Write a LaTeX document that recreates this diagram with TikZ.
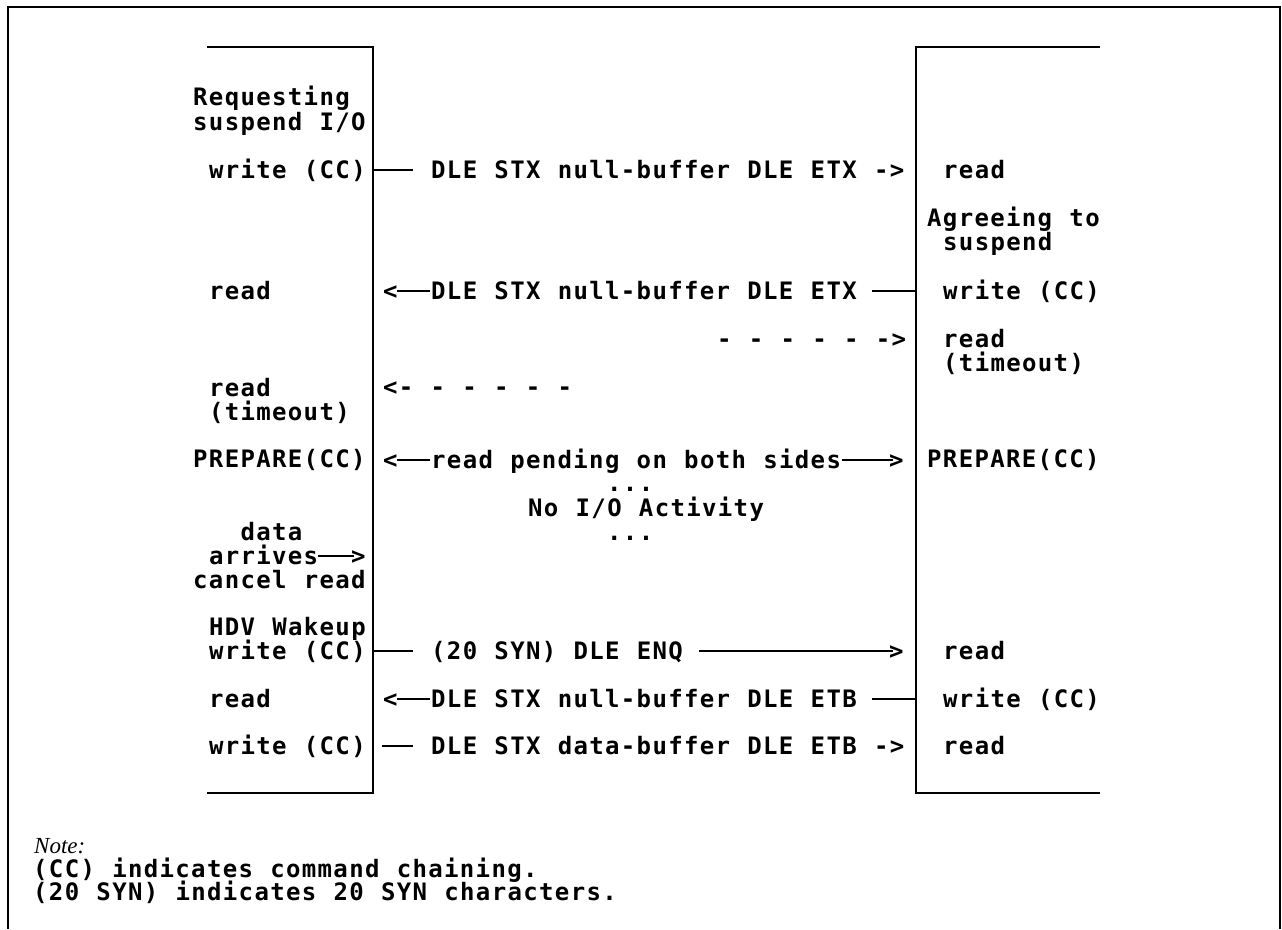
\documentclass[tikz,border=0pt]{standalone}
\usepackage{fontspec}
\newfontfamily\dg[LetterSpace=5.6,WordSpace=1.093]{DejaVu Sans Mono Bold}
\newfontfamily\nt{Liberation Serif}
\begin{document}
\begin{tikzpicture}[x=1pt,y=-1pt,
  lbl/.style={anchor=base west, inner sep=0pt, font=\fontsize{24}{26}\selectfont\dg},
  notelbl/.style={anchor=base west, inner sep=0pt, font=\fontsize{23}{26}\selectfont\nt\itshape},
  ln/.style={line width=2.2pt},
  frame/.style={line width=1.8pt},
  lane/.style={line width=2.6pt}]
\useasboundingbox (0,0) rectangle (1282,929);
% outer frame
\draw[frame] (8,929) -- (8,7) -- (1280,7) -- (1280,929);
% lanes
\draw[lane] (207,47) -- (373,47) -- (373,793) -- (207,793);
\draw[lane] (1100,47) -- (916,47) -- (916,793) -- (1100,793);
% lane attachment points
\coordinate (L1) at (373,170);
\coordinate (R2) at (916,291);
\coordinate (L6) at (373,651);
\coordinate (R7) at (916,699);
\coordinate (L8) at (382,746);
% left labels
\node[lbl] (lReq) at (193,105) {Requesting};
\node[lbl] (lSus) at (193,130) {suspend I/O};
\node[lbl] (lW1) at (208.8,178) {write (CC)};
\node[lbl] (lR1) at (208.8,299) {read};
\node[lbl] (lR2) at (208.8,396) {read};
\node[lbl] (lT2) at (208.8,420) {(timeout)};
\node[lbl] (lPrep) at (193,467) {PREPARE(CC)};
\node[lbl] (lData) at (240.4,540) {data};
\node[lbl] (lArr) at (208.8,564) {arrives};
\node[lbl] (lArrTip) at (351,564) {>};
\node[lbl] (lCan) at (193,588) {cancel read};
\node[lbl] (lHdv) at (208.8,635) {HDV Wakeup};
\node[lbl] (lW2) at (208.8,659) {write (CC)};
\node[lbl] (lR3) at (208.8,707) {read};
\node[lbl] (lW3) at (208.8,754) {write (CC)};
% right labels
\node[lbl] (rR1) at (943,178) {read};
\node[lbl] (rAg) at (927,226) {Agreeing to};
\node[lbl] (rSus) at (943,250) {suspend};
\node[lbl] (rW1) at (943,299) {write (CC)};
\node[lbl] (rR2) at (943,347) {read};
\node[lbl] (rT2) at (943,371) {(timeout)};
\node[lbl] (rPrep) at (927,467) {PREPARE(CC)};
\node[lbl] (rR3) at (943,659) {read};
\node[lbl] (rW2) at (943,707) {write (CC)};
\node[lbl] (rR4) at (943,754) {read};
% middle messages
\node[lbl] (m1) at (431,178) {DLE STX null-buffer DLE ETX ->};
\node[lbl] (m2l) at (383,299) {<};
\node[lbl] (m2) at (431,299) {DLE STX null-buffer DLE ETX};
\node[lbl] (m3) at (717,347) {- - - - - ->};
\node[lbl] (m4) at (383,395) {<- - - - - -};
\node[lbl] (m5l) at (383,468) {<};
\node[lbl] (m5) at (431,468) {read pending on both sides};
\node[lbl] (m5r) at (889,468) {>};
\node[lbl] (d1) at (607,491) {...};
\node[lbl] (noio) at (528,516) {No I/O Activity};
\node[lbl] (d2) at (607,540) {...};
\node[lbl] (m6) at (431,659) {(20 SYN) DLE ENQ};
\node[lbl] (m6r) at (889,659) {>};
\node[lbl] (m7l) at (383,707) {<};
\node[lbl] (m7) at (431,707) {DLE STX null-buffer DLE ETB};
\node[lbl] (m8) at (431,754) {DLE STX data-buffer DLE ETB ->};
% connector lines
\draw[ln] (L1) -- ([shift={(-18pt,8pt)}]m1.base west);
\draw[ln] ([shift={(-1pt,8pt)}]m2l.base east) -- ([shift={(-1pt,8pt)}]m2.base west);
\draw[ln] ([shift={(15pt,8pt)}]m2.base east) -- (R2);
\draw[ln] ([shift={(-1pt,8pt)}]m5l.base east) -- ([shift={(-1pt,8pt)}]m5.base west);
\draw[ln] ([shift={(1pt,8pt)}]m5.base east) -- ([shift={(4pt,8pt)}]m5r.base west);
\draw[ln] ([shift={(0pt,8pt)}]lArr.base east) -- ([shift={(3pt,8pt)}]lArrTip.base west);
\draw[ln] (L6) -- ([shift={(-18pt,8pt)}]m6.base west);
\draw[ln] ([shift={(16pt,8pt)}]m6.base east) -- ([shift={(4pt,8pt)}]m6r.base west);
\draw[ln] ([shift={(-1pt,8pt)}]m7l.base east) -- ([shift={(-1pt,8pt)}]m7.base west);
\draw[ln] ([shift={(15pt,8pt)}]m7.base east) -- (R7);
\draw[ln] (L8) -- ([shift={(-18pt,8pt)}]m8.base west);
% note
\node[notelbl] (note) at (34,853) {Note:};
\node[lbl] (n1) at (33,877) {(CC) indicates command chaining.};
\node[lbl] (n2) at (33,900) {(20 SYN) indicates 20 SYN characters.};
\end{tikzpicture}
\end{document}
